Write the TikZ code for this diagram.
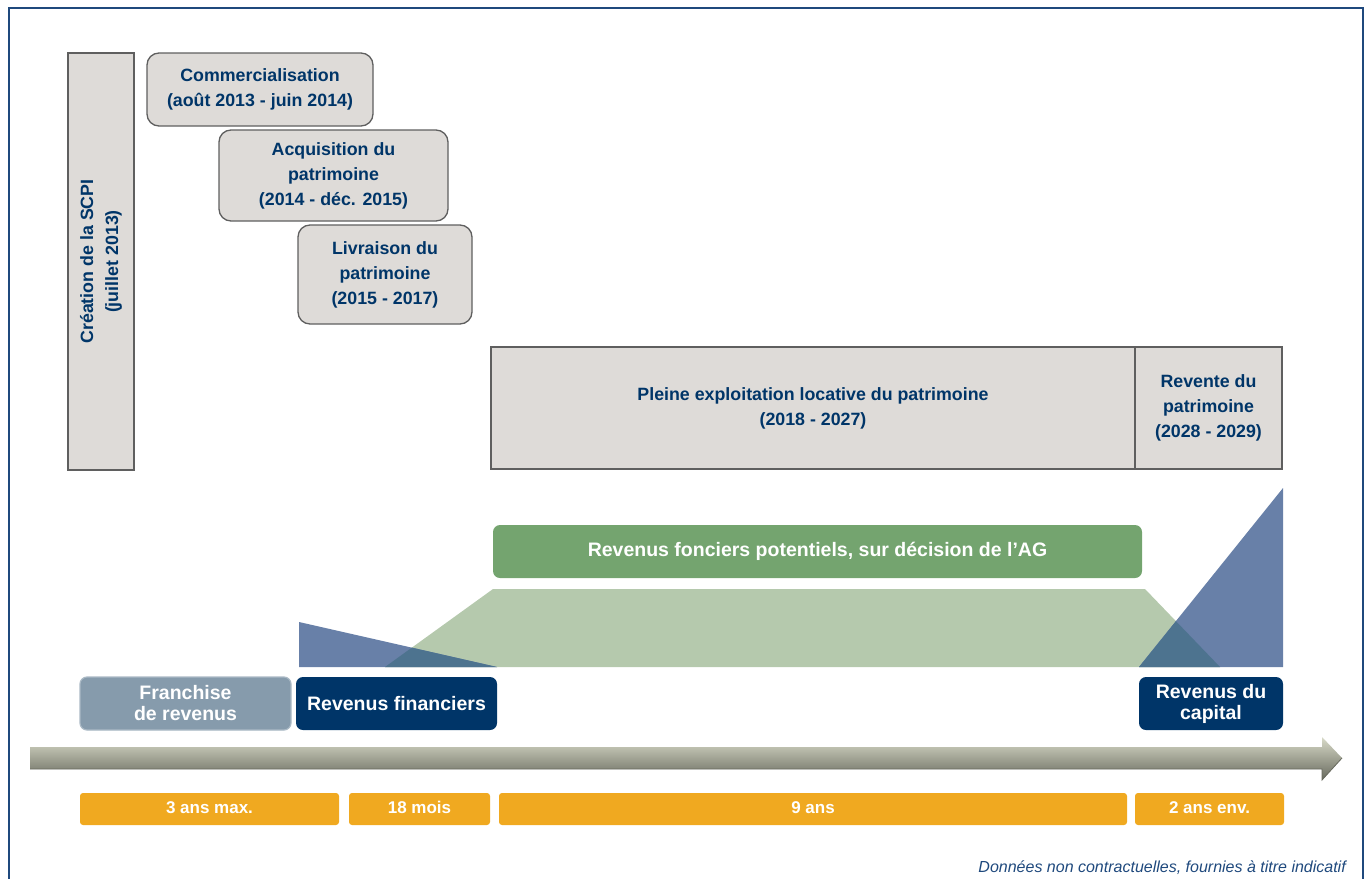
\documentclass[tikz,border=0pt]{standalone}
\usepackage{fontspec}
\setmainfont{Liberation Sans}
\definecolor{navy}{RGB}{0,53,104}
\definecolor{framecol}{RGB}{31,73,125}
\definecolor{boxgrey}{RGB}{222,219,216}
\definecolor{boxline}{RGB}{95,95,95}
\definecolor{leafgreen}{RGB}{116,164,111}
\definecolor{palegreen}{RGB}{181,201,173}
\definecolor{slateblue}{RGB}{104,128,168}
\definecolor{overlap}{RGB}{77,115,143}
\definecolor{franchisecol}{RGB}{134,155,172}
\definecolor{amber}{RGB}{240,169,32}
\definecolor{shaftlight}{RGB}{216,218,200}
\definecolor{shaftmid}{RGB}{156,158,140}
\definecolor{shaftdark}{RGB}{104,106,94}
\begin{document}
\begin{tikzpicture}[x=1pt,y=-1pt,
  phase/.style={draw=boxline,fill=boxgrey,line width=1.3pt,text=navy,align=center,
    inner sep=0pt,font=\fontsize{17.8}{25}\selectfont\bfseries},
  roundphase/.style={phase,rounded corners=12pt},
  revbox/.style={fill=navy,text=white,rounded corners=7pt,align=center,inner sep=0pt,
    minimum height=53pt,font=\fontsize{19.5}{21}\selectfont\bfseries},
  durbox/.style={fill=amber,text=white,rounded corners=3pt,inner sep=0pt,
    minimum height=32pt,text height=12.5pt,text depth=3pt,
    font=\fontsize{17}{20}\selectfont\bfseries}]
  \useasboundingbox (0,0) rectangle (1372,878);
  \clip (0,0) rectangle (1372,878);

  % Frame
  \draw[framecol,line width=1.5pt] (9,8) rectangle (1363,900);

  % Creation
  \node[phase,rotate=90,minimum width=417pt,minimum height=66pt] (creation) at (101,261.5)
    {Création de la SCPI\\(juillet 2013)};

  % Phases
  \node[roundphase,minimum width=226pt,minimum height=73pt] (commercial) at (260,89.5)
    {Commercialisation\\(août 2013 - juin 2014)};
  \node[roundphase,minimum width=229pt,minimum height=91pt] (acquisition) at (333.5,175.5)
    {Acquisition du\\patrimoine\\(2014 - déc. 2015)};
  \node[roundphase,minimum width=174pt,minimum height=99pt] (livraison) at (385,274.5)
    {Livraison du\\patrimoine\\(2015 - 2017)};
  \node[phase,minimum width=644pt,minimum height=122pt] (exploitation) at (813,408)
    {Pleine exploitation locative du patrimoine\\(2018 - 2027)};
  \node[phase,minimum width=147pt,minimum height=122pt] (revente) at (1208.5,408)
    {Revente du\\patrimoine\\(2028 - 2029)};

  % Income areas
  \fill[palegreen] (385,667) -- (493,589) -- (1145,589) -- (1220,667) -- cycle;
  \fill[slateblue] (299,622) -- (299,667) -- (497,667) -- cycle;
  \fill[slateblue] (1139,667) -- (1283,488) -- (1283,667) -- cycle;
  \begin{scope}
    \clip (385,667) -- (493,589) -- (1145,589) -- (1220,667) -- cycle;
    \fill[overlap] (299,622) -- (299,667) -- (497,667) -- cycle;
    \fill[overlap] (1139,667) -- (1283,488) -- (1283,667) -- cycle;
  \end{scope}

  \node[revbox,fill=leafgreen,minimum width=649pt] (fonciers) at (817.5,551.5)
    {Revenus fonciers potentiels, sur décision de l’AG};

  % Revenue labels
  \node[revbox,fill=franchisecol,draw=franchisecol!70!white,line width=1.2pt,
    minimum width=211pt] (franchise) at (185.5,703.5) {Franchise\\de revenus};
  \node[revbox,minimum width=201pt] (financiers) at (396.5,703.5) {Revenus financiers};
  \node[revbox,minimum width=144pt] (capital) at (1211,703.5) {Revenus du\\capital};

  % Time arrow
  \shade[top color=shaftlight,middle color=shaftmid,bottom color=shaftdark]
    (30,747) -- (1322,747) -- (1322,737) -- (1342,758) -- (1322,780) -- (1322,769)
    -- (30,769) -- cycle;
  \draw[shaftdark,line width=0.8pt] (30,769) -- (1322,769) -- (1322,780) -- (1342,758);

  % Durations
  \node[durbox,minimum width=259pt] (dur3) at (209.5,809) {3 ans max.};
  \node[durbox,minimum width=141pt] (dur18) at (419.5,809) {18 mois};
  \node[durbox,minimum width=628pt] (dur9) at (813,809) {9 ans};
  \node[durbox,minimum width=149pt] (dur2) at (1209.5,809) {2 ans env.};

  % Footer
  \node[anchor=east,text=framecol,inner sep=0pt,font=\fontsize{16}{18}\selectfont\itshape]
    (footer) at (1346,868) {Données non contractuelles, fournies à titre indicatif};
\end{tikzpicture}
\end{document}
